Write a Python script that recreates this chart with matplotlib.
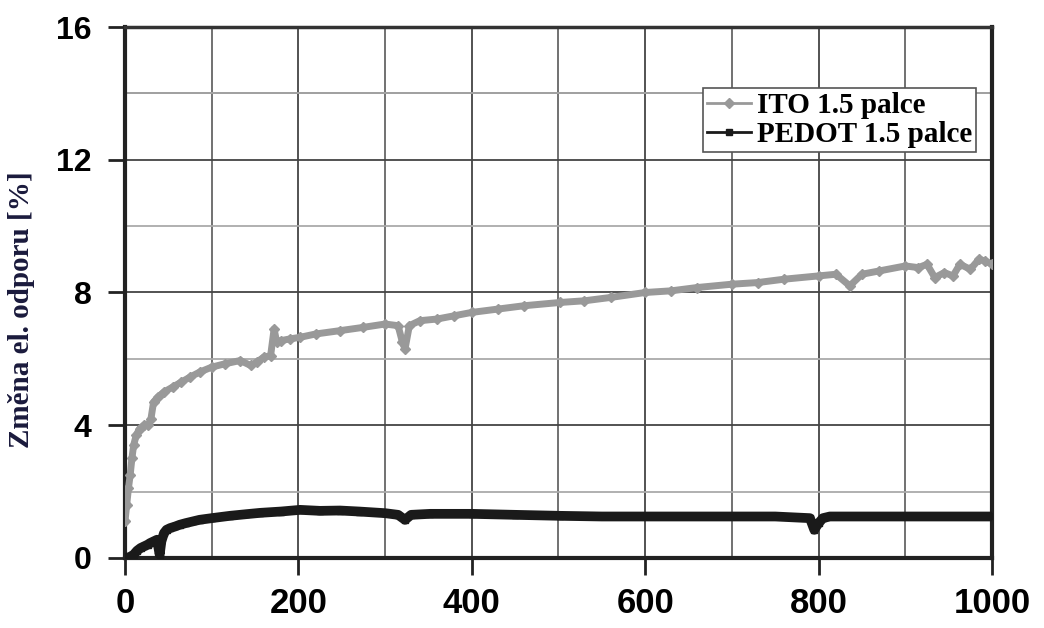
import matplotlib
matplotlib.use('Agg')
import matplotlib.pyplot as plt
from matplotlib.ticker import MultipleLocator, FixedLocator

# ITO 1.5 palce
ito_t = [0, 2, 4, 6, 8, 10, 13, 17, 22, 27, 30, 33, 38, 45, 55, 65, 75, 86,
         100, 115, 133, 145, 152, 160, 168, 172, 175, 180, 190, 202, 220, 248,
         275, 300, 315, 320, 323, 328, 340, 360, 380, 400, 430, 460, 502, 530,
         560, 600, 630, 660, 700, 730, 760, 800, 820, 836, 850, 870, 900, 915,
         925, 934, 945, 955, 963, 975, 985, 992, 1000]
ito_r = [1.1, 1.6, 2.1, 2.5, 3.0, 3.4, 3.7, 3.9, 4.0, 4.0, 4.2, 4.7, 4.85,
         5.0, 5.15, 5.3, 5.45, 5.6, 5.75, 5.85, 5.95, 5.8, 5.9, 6.05, 6.1, 6.9,
         6.5, 6.55, 6.6, 6.65, 6.75, 6.85, 6.95, 7.05, 7.0, 6.5, 6.3, 7.0, 7.15,
         7.2, 7.3, 7.4, 7.5, 7.6, 7.7, 7.75, 7.85, 8.0, 8.05, 8.15, 8.25, 8.3,
         8.4, 8.5, 8.55, 8.2, 8.55, 8.65, 8.8, 8.75, 8.85, 8.45, 8.6, 8.5, 8.85,
         8.7, 9.0, 8.95, 8.85]

# PEDOT 1.5 palce
pedot_t = [0, 5, 10, 14, 18, 22, 26, 29, 33, 37, 40, 42, 45, 48, 52, 58, 63,
           70, 78, 86, 100, 121, 140, 156, 180, 202, 225, 248, 270, 300, 315,
           323, 330, 352, 400, 450, 502, 550, 600, 650, 700, 750, 790, 795, 800,
           805, 813, 850, 900, 950, 1000]
pedot_r = [0.0, 0.02, 0.1, 0.22, 0.3, 0.35, 0.4, 0.45, 0.5, 0.55, 0.1, 0.5,
           0.75, 0.85, 0.9, 0.95, 1.0, 1.05, 1.1, 1.15, 1.2, 1.27, 1.32, 1.36,
           1.4, 1.45, 1.42, 1.43, 1.4, 1.35, 1.3, 1.15, 1.3, 1.33, 1.33, 1.3,
           1.27, 1.25, 1.25, 1.25, 1.25, 1.25, 1.2, 0.85, 1.05, 1.2, 1.25, 1.25,
           1.25, 1.25, 1.25]

x_ticks = [0, 200, 400, 600, 800, 1000]
x_labels = ['0', '200', '400', '600', '800', '1000']
y_ticks = [0, 4, 8, 12, 16]
y_labels = ['0', '4', '8', '12', '16']

fig = plt.figure(figsize=(10.44, 6.28), dpi=100)
ax = fig.add_axes([0.1197, 0.1115, 0.8305, 0.8455])

ax.plot(ito_t, ito_r, color='#999999', lw=5, marker='D', ms=5,
        label='ITO 1.5 palce', zorder=3)
ax.plot(pedot_t, pedot_r, color='#1a1a1a', lw=7, marker='s', ms=5,
        label='PEDOT 1.5 palce', zorder=4)

ax.set_xlim(0, 1000)
ax.set_ylim(0, 16)
ax.set_xticks(x_ticks)
ax.set_xticklabels(x_labels)
ax.set_yticks(y_ticks)
ax.set_yticklabels(y_labels)
ax.xaxis.set_minor_locator(MultipleLocator(100))
ax.yaxis.set_minor_locator(FixedLocator([2, 6, 10, 14]))

ax.grid(which='major', color='#444444', lw=1.3, zorder=1)
ax.grid(which='minor', axis='x', color='#666666', lw=1.3, zorder=1)
ax.grid(which='minor', axis='y', color='#aaaaaa', lw=1.3, zorder=1)
ax.axhline(14, color='#444444', lw=1.3, zorder=1)

ax.tick_params(axis='both', which='major', direction='out', length=12,
               width=2, color='#222222')
ax.tick_params(axis='both', which='minor', length=0)
ax.tick_params(axis='y', labelsize=23, pad=12)
ax.tick_params(axis='x', labelsize=25, pad=9)
for lab in ax.get_xticklabels() + ax.get_yticklabels():
    lab.set_fontweight('bold')
    lab.set_family(['Liberation Sans', 'DejaVu Sans'])

for side in ['left', 'right', 'bottom']:
    ax.spines[side].set_linewidth(3)
    ax.spines[side].set_color('#222222')
ax.spines['top'].set_linewidth(2.5)
ax.spines['top'].set_color('#333333')

ax.set_ylabel('Změna el. odporu [%]', fontsize=21, fontweight='bold',
              family=['Liberation Serif', 'DejaVu Serif'], color='#1a1a3c')
ax.yaxis.set_label_coords(-0.104, 0.467)

leg = ax.legend(loc='upper right', bbox_to_anchor=(0.982, 0.885),
                prop={'family': ['Liberation Serif', 'DejaVu Serif'],
                      'weight': 'bold', 'size': 21},
                frameon=True, fancybox=False, edgecolor='#555555',
                framealpha=1, borderpad=0.15, labelspacing=0.05,
                handlelength=1.5, handletextpad=0.2, borderaxespad=0)
leg.get_frame().set_linewidth(1.2)
for h in leg.get_lines():
    h.set_linewidth(2)
    h.set_markersize(5)

fig.savefig('out.png', dpi=100)
